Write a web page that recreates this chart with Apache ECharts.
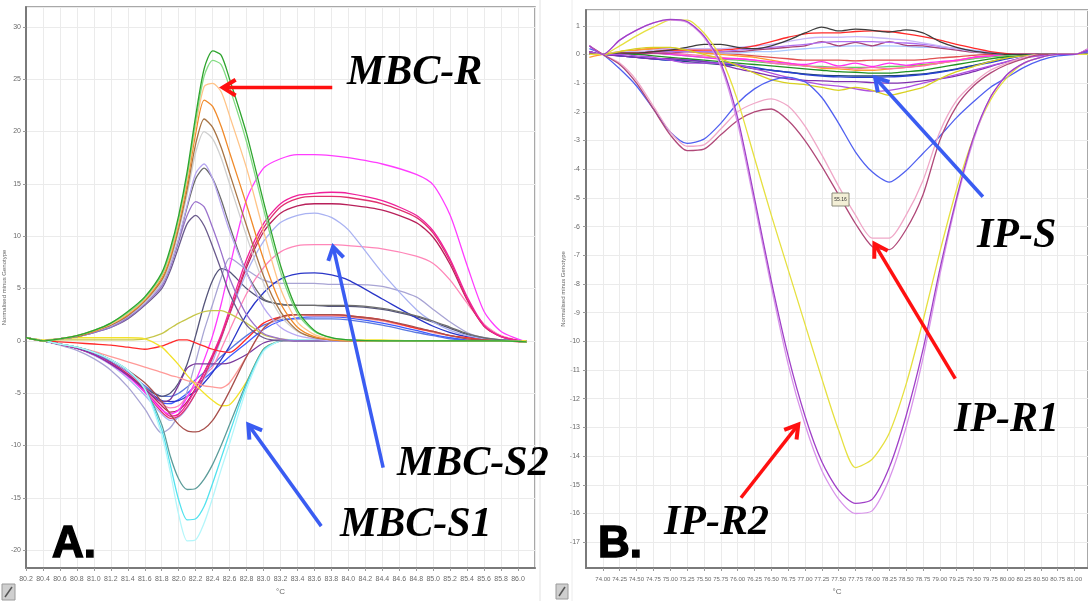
<!DOCTYPE html>
<html>
<head>
<meta charset="utf-8">
<script src="https://cdn.jsdelivr.net/npm/echarts@6/dist/echarts.min.js"></script>
<style>
  html, body { margin: 0; padding: 0; background: #ffffff; }
  #chart { width: 1088px; height: 601px; }
</style>
</head>
<body>
<div id="chart"></div>
<script>
// ---------- Panel A: MBC difference curves ----------
const tempA = [80.2, 80.4, 80.6, 80.8, 81.0, 81.2, 81.4, 81.6, 81.8, 81.9, 82.0, 82.1, 82.2, 82.3, 82.4, 82.5, 82.6, 82.8, 83.0, 83.2, 83.4, 83.6, 83.8, 84.0, 84.4, 84.8, 85.0, 85.2, 85.4, 85.6, 85.8, 86.1];

// MBC-R: sharp positive peaks near 82.3-82.4 °C
const rGreen    = [0.3, 0, 0.2, 0.5, 1.0, 1.7, 2.8, 4.2, 6.5, 8.8, 12.0, 16.2, 21.5, 26.0, 27.7, 27.3, 25.0, 19.8, 13.3, 7.2, 2.9, 1.0, 0.3, 0.1, 0, 0, 0, 0, 0, 0, 0, -0.1];
const rLime     = [0.3, 0, 0.2, 0.5, 1.0, 1.7, 2.7, 4.1, 6.3, 8.5, 11.7, 15.8, 21.0, 25.3, 26.8, 26.4, 24.2, 19.0, 12.6, 6.6, 2.6, 0.9, 0.3, 0.1, 0, 0, 0, 0, 0, 0, 0, -0.1];
const rPeach    = [0.3, 0, 0.2, 0.5, 1.0, 1.6, 2.6, 4.0, 6.2, 8.3, 11.5, 15.5, 20.5, 24.3, 24.6, 23.8, 21.5, 16.5, 10.5, 5.0, 1.8, 0.6, 0.2, 0.1, 0, 0, 0, 0, 0, 0, 0, -0.1];
const rOrange   = [0.3, 0, 0.2, 0.5, 0.9, 1.6, 2.5, 3.9, 6.0, 8.0, 11.2, 15.0, 19.8, 23.0, 22.4, 20.5, 18.0, 13.0, 7.8, 3.6, 1.3, 0.4, 0.1, 0, 0, 0, 0, 0, 0, 0, 0, -0.1];
const rUmber    = [0.3, 0, 0.2, 0.4, 0.9, 1.5, 2.4, 3.8, 5.8, 7.8, 10.8, 14.5, 18.8, 21.2, 20.4, 18.5, 16.0, 11.0, 6.2, 2.8, 1.0, 0.3, 0.1, 0, 0, 0, 0, 0, 0, 0, 0, -0.1];
const rSilver   = [0.3, 0, 0.2, 0.4, 0.9, 1.5, 2.4, 3.7, 5.6, 7.5, 10.5, 14.0, 18.0, 20.0, 19.3, 17.5, 15.0, 10.0, 5.5, 2.4, 0.9, 0.3, 0.1, 0, 0, 0, 0, 0, 0, 0, 0, -0.1];
const rLilac    = [0.3, 0, 0.2, 0.4, 0.9, 1.4, 2.3, 3.6, 5.4, 7.2, 9.8, 13.0, 16.0, 16.9, 15.5, 13.0, 10.5, 6.5, 3.2, 1.3, 0.5, 0.2, 0, 0, 0, 0, 0, 0, 0, 0, 0, -0.1];
const rGraphite = [0.3, 0, 0.2, 0.4, 0.9, 1.4, 2.3, 3.6, 5.4, 7.2, 9.7, 12.8, 15.5, 16.5, 15.5, 13.5, 11.0, 6.5, 4.0, 3.5, 3.4, 3.4, 3.4, 3.4, 3.1, 2.4, 1.9, 1.3, 0.7, 0.3, 0.1, -0.1];
const rPurple   = [0.3, 0, 0.2, 0.4, 0.8, 1.3, 2.2, 3.5, 5.2, 7.0, 9.5, 12.0, 13.3, 12.8, 10.8, 8.5, 6.0, 2.5, 0.7, 0.2, 0, 0, 0, 0, 0, 0, 0, 0, 0, 0, 0, -0.1];
const rPlum     = [0.3, 0, 0.2, 0.4, 0.8, 1.3, 2.1, 3.4, 5.0, 6.7, 9.0, 11.2, 12.0, 11.0, 9.0, 6.8, 4.5, 1.5, 0.3, 0, 0, 0, 0, 0, 0, 0, 0, 0, 0, 0, 0, -0.1];

// MBC-S1: deep negative dips near 82.1 °C
const s1Ice  = [0.3, 0, -0.3, -0.6, -1.1, -1.8, -2.8, -4.6, -9.0, -12.5, -16.6, -19.1, -19.0, -17.4, -15.0, -12.3, -9.8, -4.6, -1.0, 0, 0.1, 0.1, 0, 0, 0, 0, 0, 0, 0, 0, 0, -0.1];
const s1Cyan = [0.3, 0, -0.3, -0.6, -1.1, -1.8, -2.8, -4.6, -8.5, -11.8, -15.2, -17.1, -17.0, -15.8, -13.6, -11.2, -8.8, -4.2, -0.9, 0, 0.1, 0.1, 0, 0, 0, 0, 0, 0, 0, 0, 0, -0.1];
const s1Teal = [0.3, 0, -0.3, -0.6, -1.1, -1.8, -2.8, -4.6, -8.0, -11.0, -13.2, -14.2, -14.1, -13.2, -11.8, -10.0, -8.0, -4.0, -0.8, 0, 0.1, 0, 0, 0, 0, 0, 0, 0, 0, 0, 0, -0.1];

// other genotypes
const mBrown  = [0.3, 0, -0.3, -0.6, -1.1, -1.8, -2.8, -4.0, -5.8, -7.0, -8.0, -8.6, -8.7, -8.4, -7.6, -6.3, -4.8, -1.5, 1.2, 2.3, 2.5, 2.5, 2.5, 2.4, 2.0, 1.3, 0.9, 0.5, 0.2, 0.1, 0, -0.1];
const mYellow = [0.3, 0.1, 0.2, 0.3, 0.3, 0.3, 0.3, 0.2, -0.6, -1.4, -2.3, -3.3, -4.2, -5.0, -5.7, -6.2, -6.1, -3.9, -0.8, 0, 0.1, 0.1, 0.1, 0.1, 0.1, 0, 0, 0, 0, 0, 0, 0];
const mOlive  = [0.3, 0, 0.1, 0.1, 0.1, 0.1, 0.1, 0.2, 0.7, 1.2, 1.7, 2.1, 2.5, 2.8, 2.9, 2.9, 2.6, 1.7, 0.6, 0.2, 0.1, 0, 0, 0, 0, 0, 0, 0, 0, 0, 0, 0];
const mRed    = [0.3, 0, -0.1, -0.2, -0.3, -0.4, -0.6, -0.8, -0.5, -0.2, 0.1, 0.1, -0.2, -0.5, -0.8, -1.0, -1.1, 0.2, 1.7, 2.3, 2.5, 2.5, 2.5, 2.4, 2.0, 1.2, 0.9, 0.5, 0.3, 0.1, 0, -0.1];
const mSalmon = [0.3, 0, -0.3, -0.6, -1.0, -1.5, -2.0, -2.5, -3.0, -3.3, -3.5, -3.8, -4.0, -4.3, -4.4, -4.5, -4.0, -1.5, 1.2, 2.2, 2.5, 2.4, 2.4, 2.3, 1.9, 1.2, 0.8, 0.5, 0.2, 0.1, 0, -0.1];
const mViolet = [0.3, 0, -0.3, -0.7, -1.3, -2.2, -3.3, -4.6, -5.8, -5.6, -4.2, -2.6, -2.2, -2.2, -2.2, -2.2, -2.1, -1.3, -0.2, 0.1, 0, 0, 0, 0, 0, 0, 0, 0, 0, 0, 0, -0.1];

// MBC-S2: early dip then broad plateau from 83 to 85 °C
const s2Magenta    = [0.3, 0, -0.3, -0.7, -1.3, -2.2, -3.4, -4.9, -6.6, -7.0, -6.6, -5.4, -3.8, -1.8, 0.5, 3.5, 7.0, 13.5, 16.5, 17.4, 17.8, 17.8, 17.7, 17.5, 16.9, 15.9, 14.9, 12.0, 7.2, 2.8, 0.9, -0.1];
const s2Rose       = [0.3, 0, -0.3, -0.7, -1.3, -2.2, -3.3, -4.8, -6.5, -7.2, -7.0, -6.0, -4.6, -3.0, -1.3, 0.6, 3.0, 7.8, 11.2, 13.1, 13.9, 14.1, 14.2, 14.1, 13.4, 12.0, 10.5, 7.8, 4.2, 1.5, 0.4, -0.1];
const s2Crimson    = [0.3, 0, -0.3, -0.7, -1.3, -2.2, -3.3, -4.9, -6.8, -7.4, -7.2, -6.3, -5.0, -3.4, -1.6, 0.3, 2.6, 7.3, 10.8, 12.8, 13.6, 13.8, 13.8, 13.7, 13.1, 11.8, 10.3, 7.6, 4.0, 1.4, 0.4, -0.1];
const s2Wine       = [0.3, 0, -0.3, -0.7, -1.3, -2.1, -3.2, -4.6, -6.2, -6.8, -6.6, -5.8, -4.5, -3.0, -1.4, 0.4, 2.6, 7.0, 10.4, 12.2, 12.9, 13.1, 13.1, 13.0, 12.5, 11.3, 9.9, 7.3, 3.9, 1.4, 0.4, -0.1];
const s2Periwinkle = [0.3, 0, -0.3, -0.7, -1.4, -2.3, -3.6, -5.2, -7.0, -7.6, -7.3, -6.4, -5.0, -3.6, -2.0, 0.2, 2.5, 6.5, 9.5, 11.3, 12.0, 12.2, 11.8, 10.6, 6.5, 3.0, 1.8, 1.0, 0.5, 0.2, 0.1, 0];
const s2Pink       = [0.3, 0, -0.3, -0.7, -1.3, -2.1, -3.1, -4.5, -6.0, -6.4, -6.2, -5.3, -4.2, -3.3, -2.5, -0.8, 1.0, 4.5, 7.0, 8.5, 9.1, 9.2, 9.2, 9.1, 8.8, 8.1, 7.4, 5.8, 3.6, 1.6, 0.5, -0.1];
const s2Blue       = [0.3, 0, -0.3, -0.7, -1.3, -2.1, -3.2, -4.6, -5.7, -5.8, -5.7, -5.3, -4.8, -4.0, -3.0, -1.8, -0.5, 2.5, 4.6, 5.9, 6.4, 6.5, 6.3, 5.8, 4.0, 2.2, 1.4, 0.8, 0.4, 0.2, 0.1, 0];
const s2Haze       = [0.3, 0, -0.4, -0.9, -1.7, -2.8, -4.4, -6.5, -8.8, -8.3, -7.0, -4.8, -2.0, 1.0, 3.5, 6.0, 7.9, 6.8, 5.8, 5.5, 5.5, 5.5, 5.4, 5.4, 5.2, 4.2, 3.0, 1.8, 0.8, 0.3, 0.1, 0];
const s2Slate      = [0.3, 0, -0.3, -0.7, -1.3, -2.1, -3.2, -4.5, -5.3, -5.0, -4.0, -2.2, 0.5, 3.5, 5.8, 6.9, 6.6, 5.0, 3.9, 3.5, 3.4, 3.4, 3.3, 3.3, 3.0, 2.3, 1.8, 1.2, 0.6, 0.2, 0.1, 0];
const s2Azure      = [0.3, 0, -0.3, -0.7, -1.3, -2.1, -3.2, -4.6, -5.9, -6.0, -5.6, -5.0, -4.3, -3.6, -2.9, -2.2, -1.5, -0.2, 1.1, 1.9, 2.2, 2.3, 2.3, 2.2, 1.7, 1.0, 0.6, 0.3, 0.1, 0, 0, 0];
const s2Cobalt     = [0.3, 0, -0.3, -0.7, -1.2, -2.0, -3.0, -4.3, -5.3, -5.3, -5.0, -4.4, -3.7, -3.0, -2.3, -1.5, -0.8, 0.5, 1.5, 2.0, 2.1, 2.1, 2.1, 2.0, 1.5, 0.8, 0.5, 0.2, 0.1, 0, 0, 0];

// ---------- Panel B: IP difference curves ----------
const tempB = [73.8, 74.0, 74.25, 74.5, 74.75, 75.0, 75.25, 75.5, 75.75, 76.0, 76.25, 76.5, 76.75, 77.0, 77.25, 77.5, 77.75, 78.0, 78.25, 78.5, 78.75, 79.0, 79.25, 79.5, 79.75, 80.0, 80.25, 80.5, 80.75, 81.0, 81.2];

// IP-R2
const r2Violet = [0.3, 0, 0.5, 0.85, 1.1, 1.22, 1.15, 0.65, -0.3, -2.2, -5.0, -7.9, -10.5, -12.6, -14.2, -15.2, -15.65, -15.5, -14.4, -12.6, -10.3, -7.5, -5.0, -2.9, -1.5, -0.7, -0.3, -0.1, 0, 0, 0.15];
const r2Orchid = [0.3, 0, 0.5, 0.85, 1.1, 1.2, 1.12, 0.6, -0.4, -2.4, -5.2, -8.1, -10.8, -12.9, -14.5, -15.5, -16.0, -15.9, -14.8, -13.0, -10.6, -7.7, -5.1, -3.0, -1.5, -0.7, -0.3, -0.1, 0, 0, 0.2];
const r2Yellow = [0, 0, 0.3, 0.65, 0.95, 1.2, 1.2, 0.75, -0.1, -1.6, -3.6, -5.6, -7.5, -9.4, -11.3, -13.1, -14.4, -14.1, -13.2, -11.5, -9.3, -6.9, -4.7, -2.9, -1.6, -0.8, -0.3, -0.1, 0, 0, 0];
// IP-R1
const r1Mauve  = [0.3, 0, -0.35, -1.0, -1.9, -2.8, -3.35, -3.3, -2.8, -2.3, -2.0, -1.9, -2.3, -3.0, -3.9, -4.9, -5.9, -6.7, -6.8, -6.1, -4.9, -3.0, -1.8, -1.1, -0.65, -0.35, -0.15, 0, 0, 0, 0.2];
const r1Blush  = [0.3, 0, -0.3, -0.9, -1.8, -2.7, -3.2, -3.15, -2.6, -2.0, -1.7, -1.55, -1.8, -2.5, -3.5, -4.6, -5.6, -6.4, -6.4, -5.6, -4.4, -2.7, -1.6, -1.0, -0.55, -0.3, -0.1, 0, 0, 0, 0.2];
// IP-S
const sBlue      = [0.2, 0, -0.5, -1.1, -1.9, -2.7, -3.1, -2.95, -2.4, -1.7, -1.2, -0.9, -0.8, -0.95, -1.5, -2.4, -3.4, -4.1, -4.45, -4.05, -3.45, -2.85, -2.2, -1.65, -1.15, -0.8, -0.45, -0.2, -0.05, 0, 0.1];
const sGraphite  = [0.1, 0, 0.05, 0.05, 0.1, 0.15, 0.25, 0.35, 0.35, 0.25, 0.2, 0.3, 0.5, 0.75, 0.95, 0.82, 0.88, 0.84, 0.78, 0.86, 0.75, 0.45, 0.25, 0.12, 0.05, 0, 0, 0, 0, 0, 0];
const sScarlet   = [0.05, 0, 0.05, 0.05, 0.1, 0.15, 0.15, 0.15, 0.15, 0.2, 0.3, 0.45, 0.6, 0.72, 0.75, 0.75, 0.8, 0.82, 0.8, 0.72, 0.62, 0.5, 0.35, 0.22, 0.1, 0.03, 0, 0, 0, 0, 0];
const sLavender  = [0.05, 0, 0.1, 0.1, 0.15, 0.2, 0.2, 0.2, 0.2, 0.25, 0.3, 0.35, 0.45, 0.55, 0.6, 0.6, 0.62, 0.6, 0.55, 0.5, 0.4, 0.3, 0.2, 0.1, 0.05, 0, 0, 0, 0, 0, 0];
const sViolet    = [0, 0, 0.05, 0.05, 0.1, 0.1, 0.1, 0.1, 0.1, 0.15, 0.2, 0.25, 0.3, 0.35, 0.42, 0.45, 0.45, 0.45, 0.42, 0.4, 0.35, 0.28, 0.2, 0.12, 0.05, 0, 0, 0, 0, 0, 0];
const sMauve     = [0, 0, 0, 0, 0.05, 0.05, 0.1, 0.1, 0.1, 0.1, 0.15, 0.2, 0.25, 0.3, 0.45, 0.3, 0.42, 0.3, 0.45, 0.32, 0.3, 0.22, 0.15, 0.08, 0.03, 0, 0, 0, 0, 0, 0];
const sSky       = [0, 0, 0.05, 0.1, 0.1, 0.1, 0.1, 0.1, 0.05, 0.05, 0.1, 0.1, 0.15, 0.2, 0.25, 0.28, 0.3, 0.3, 0.3, 0.28, 0.25, 0.25, 0.22, 0.15, 0.08, 0.02, 0, 0, 0, 0, 0];
const sCoral     = [0.1, 0, 0.1, 0.15, 0.2, 0.2, 0.15, 0.1, 0.05, 0, -0.05, -0.1, -0.15, -0.2, -0.2, -0.2, -0.22, -0.2, -0.2, -0.2, -0.18, -0.12, -0.08, -0.03, 0, 0, 0, 0, 0, 0, 0];
const sFuchsia   = [0, 0, 0.05, 0.05, 0.05, 0, -0.05, -0.1, -0.15, -0.15, -0.2, -0.25, -0.3, -0.35, -0.25, -0.4, -0.3, -0.42, -0.3, -0.38, -0.3, -0.25, -0.2, -0.1, -0.05, 0, 0, 0, 0, 0, 0];
const sPink      = [0.1, 0, 0.05, 0.1, 0.1, 0.05, 0, -0.05, -0.1, -0.15, -0.2, -0.3, -0.35, -0.4, -0.45, -0.45, -0.5, -0.45, -0.5, -0.45, -0.4, -0.3, -0.22, -0.12, -0.05, 0, 0, 0, 0, 0, 0];
const sOrange    = [-0.1, 0, 0.1, 0.15, 0.2, 0.15, 0.1, 0.05, 0, -0.05, -0.1, -0.2, -0.3, -0.4, -0.48, -0.5, -0.55, -0.55, -0.5, -0.45, -0.38, -0.3, -0.2, -0.1, -0.05, 0, 0, 0, 0, 0, 0];
const sGreen     = [0, 0, 0, 0, -0.05, -0.1, -0.15, -0.2, -0.25, -0.3, -0.35, -0.4, -0.45, -0.5, -0.55, -0.6, -0.62, -0.65, -0.65, -0.6, -0.55, -0.45, -0.35, -0.25, -0.15, -0.08, -0.03, 0, 0, 0, 0];
const sNavy      = [0, 0, -0.05, -0.1, -0.15, -0.2, -0.25, -0.3, -0.35, -0.4, -0.5, -0.55, -0.62, -0.68, -0.72, -0.74, -0.75, -0.75, -0.74, -0.72, -0.68, -0.6, -0.5, -0.38, -0.25, -0.12, -0.05, 0, 0, 0, 0];
const sCobalt    = [0, 0, -0.05, -0.1, -0.15, -0.2, -0.2, -0.25, -0.3, -0.38, -0.45, -0.55, -0.62, -0.7, -0.75, -0.78, -0.8, -0.8, -0.78, -0.75, -0.7, -0.62, -0.52, -0.4, -0.28, -0.15, -0.05, 0, 0, 0, 0];
const sPurple    = [0.1, 0, -0.05, -0.1, -0.15, -0.15, -0.2, -0.25, -0.35, -0.5, -0.62, -0.75, -0.85, -0.9, -0.92, -0.95, -0.95, -0.98, -1.0, -0.98, -0.92, -0.85, -0.75, -0.6, -0.42, -0.25, -0.1, -0.03, 0, 0, 0.1];
const sGold      = [0, 0, 0.1, 0.2, 0.25, 0.25, 0.15, 0, -0.15, -0.4, -0.65, -0.88, -1.0, -1.05, -1.15, -1.25, -1.15, -1.25, -1.42, -1.3, -1.15, -0.85, -0.6, -0.42, -0.25, -0.12, -0.05, 0, 0, 0, 0];
const sAmethyst  = [0.1, 0, 0, -0.05, -0.1, -0.2, -0.3, -0.3, -0.3, -0.35, -0.5, -0.65, -0.8, -0.95, -1.05, -1.1, -1.2, -1.28, -1.25, -1.15, -1.0, -0.85, -0.7, -0.55, -0.4, -0.25, -0.12, -0.05, 0, 0, 0.1];
const sLime      = [0, 0, 0, 0.05, 0.05, 0, -0.05, -0.1, -0.15, -0.2, -0.25, -0.3, -0.35, -0.4, -0.42, -0.45, -0.45, -0.45, -0.42, -0.4, -0.35, -0.3, -0.22, -0.15, -0.08, -0.03, 0, 0, 0, 0, 0];

// axis titles
const yTitle = 'Normalised minus Genotype';
const xTitle = '°C';

// curve colours per panel
const curvesA = [
  [s2Cobalt, '#5a78e0'], [s2Azure, '#3f5cff'], [s2Slate, '#55557a'], [s2Haze, '#a8a4d4'],
  [s2Blue, '#2a36c8'], [s2Pink, '#ff86b8'], [s2Periwinkle, '#a9b2f2'], [s2Wine, '#b8205a'],
  [s2Crimson, '#e0306e'], [s2Rose, '#f0209a'], [s2Magenta, '#ff3cff'],
  [mViolet, '#7a3a9c'], [mSalmon, '#ff9a98'], [mRed, '#ff2a2a'], [mOlive, '#c6c64a'],
  [mYellow, '#f2e22a'], [mBrown, '#a8504c'],
  [s1Teal, '#5c9c9a'], [s1Cyan, '#52e2ee'], [s1Ice, '#b4f6fa'],
  [rPlum, '#6a5a8c'], [rPurple, '#9a72cc'], [rGraphite, '#6c6c6c'], [rLilac, '#b8a8f2'],
  [rSilver, '#cfcfcf'], [rUmber, '#a87444'], [rOrange, '#f08a2a'], [rPeach, '#ffc488'],
  [rLime, '#84dc84'], [rGreen, '#2ea42e']
];
const curvesB = [
  [sLime, '#5cd05c'], [sCoral, '#e05050'], [sSky, '#a8c8ff'], [sOrange, '#ff9a30'],
  [sPink, '#ff70b0'], [sFuchsia, '#ff30f0'], [sMauve, '#a84278'], [sViolet, '#b070f0'],
  [sLavender, '#c8b8f8'], [sScarlet, '#ff2a2a'], [sGraphite, '#3c3c3c'], [sGreen, '#229022'],
  [sNavy, '#204878'], [sCobalt, '#2840d0'], [sPurple, '#8030b0'], [sAmethyst, '#b050e0'],
  [sGold, '#d8d020'], [sBlue, '#5060f0'],
  [r1Blush, '#f0a8c8'], [r1Mauve, '#b04878'],
  [r2Yellow, '#e6e040'], [r2Orchid, '#d894ea'], [r2Violet, '#a040c8']
];

// annotation arrows, in data units of each panel
const arrowsA = [
  { from: [83.81, 24.2], to: [82.52, 24.2], color: '#ff1010' },
  { from: [84.41, -12.1], to: [83.82, 9.0], color: '#3a5cf2' },
  { from: [83.68, -17.7], to: [82.82, -8.0], color: '#3a5cf2' }
];
const arrowsB = [
  { from: [79.64, -4.96], to: [78.04, -0.81], color: '#3a5cf2' },
  { from: [79.23, -11.3], to: [78.03, -6.6], color: '#ff1010' },
  { from: [76.05, -15.45], to: [76.9, -12.9], color: '#ff1010' }
];

const chart = echarts.init(document.getElementById('chart'), null, { renderer: 'canvas' });

function toSeries(list, xs, gridIdx) {
  return list.map(([vals, color]) => ({
    type: 'line',
    xAxisIndex: gridIdx,
    yAxisIndex: gridIdx,
    data: xs.map((t, i) => [t, vals[i]]),
    showSymbol: false,
    smooth: 0.25,
    silent: true,
    lineStyle: { color: color, width: 1.3 },
    itemStyle: { color: color }
  }));
}

const axisLabelStyle = { fontSize: 7, color: '#6a6a6a', fontFamily: 'Liberation Sans' };
const splitStyle = { show: true, lineStyle: { color: '#ebebeb', width: 1 } };
const axisLineStyle = { show: true, onZero: false, lineStyle: { color: '#7a7a7a', width: 2 } };
const tickStyle = { show: true, length: 3, lineStyle: { color: '#9a9a9a' } };
const nameStyle = { fontSize: 8, color: '#666', fontFamily: 'Liberation Sans' };

chart.setOption({
  animation: false,
  backgroundColor: '#ffffff',
  grid: [
    { left: 22, top: 7, width: 513, height: 570, show: true, borderColor: '#8c8c8c', borderWidth: 1.5, backgroundColor: '#ffffff' },
    { left: 586, top: 10, width: 504, height: 564, show: true, borderColor: '#8c8c8c', borderWidth: 1.5, backgroundColor: '#ffffff' }
  ],
  xAxis: [
    {
      type: 'value', gridIndex: 0, min: 80.2, max: 86.2, interval: 0.2,
      name: xTitle, nameLocation: 'middle', nameGap: 20, nameTextStyle: nameStyle,
      axisLine: axisLineStyle, axisTick: tickStyle, splitLine: splitStyle,
      axisLabel: Object.assign({}, axisLabelStyle, { margin: 8, interval: 0, showMaxLabel: false, formatter: v => v.toFixed(1) })
    },
    {
      type: 'value', gridIndex: 1, min: 73.75, max: 81.2, interval: 0.25,
      name: xTitle, nameLocation: 'middle', nameGap: 20, nameTextStyle: nameStyle,
      axisLine: axisLineStyle, axisTick: tickStyle, splitLine: splitStyle,
      axisLabel: Object.assign({}, axisLabelStyle, { fontSize: 6, margin: 8, interval: 0, showMinLabel: false, showMaxLabel: false, formatter: v => v.toFixed(2) })
    }
  ],
  yAxis: [
    {
      type: 'value', gridIndex: 0, min: -21.7, max: 31.9, splitNumber: 10, minInterval: 5, maxInterval: 5,
      name: yTitle, nameLocation: 'middle', nameGap: 14,
      nameTextStyle: { fontSize: 6, color: '#666', fontFamily: 'Liberation Sans' },
      axisLine: axisLineStyle, axisTick: tickStyle, splitLine: splitStyle,
      axisLabel: Object.assign({}, axisLabelStyle, { margin: 5, showMinLabel: false, showMaxLabel: false })
    },
    {
      type: 'value', gridIndex: 1, min: -17.9, max: 1.55, splitNumber: 20, minInterval: 1, maxInterval: 1,
      name: yTitle, nameLocation: 'middle', nameGap: 15,
      nameTextStyle: { fontSize: 6, color: '#666', fontFamily: 'Liberation Sans' },
      axisLine: axisLineStyle, axisTick: tickStyle, splitLine: splitStyle,
      axisLabel: Object.assign({}, axisLabelStyle, { margin: 6, showMinLabel: false, showMaxLabel: false })
    }
  ],
  series: toSeries(curvesA, tempA, 0).concat(toSeries(curvesB, tempB, 1))
});

// arrows are placed through the axes so they sit on the curves they point at
function arrowShapes(gridIndex, list) {
  const out = [];
  list.forEach(a => {
    const p0 = chart.convertToPixel({ gridIndex: gridIndex }, a.from);
    const p1 = chart.convertToPixel({ gridIndex: gridIndex }, a.to);
    const ang = Math.atan2(p1[1] - p0[1], p1[0] - p0[0]);
    const L = 15, spread = 0.55;
    const h1 = [p1[0] - L * Math.cos(ang - spread), p1[1] - L * Math.sin(ang - spread)];
    const h2 = [p1[0] - L * Math.cos(ang + spread), p1[1] - L * Math.sin(ang + spread)];
    out.push({ type: 'polyline', z: 50, silent: true, shape: { points: [p0, p1] }, style: { stroke: a.color, lineWidth: 3.5, fill: null } });
    out.push({ type: 'polyline', z: 50, silent: true, shape: { points: [h1, p1, h2] }, style: { stroke: a.color, lineWidth: 4, fill: null, lineJoin: 'miter' } });
  });
  return out;
}

function label(text, x, y, font, heavy) {
  const style = { text: text, font: font, fill: '#000000', align: 'left', verticalAlign: 'middle', textAlign: 'left', textVerticalAlign: 'middle' };
  if (heavy) { style.stroke = '#000000'; style.lineWidth = 1.5; }
  return { type: 'text', x: x, y: y, z: 60, silent: true, style: style };
}

const serifFont = 'italic bold 42px "Liberation Serif"';
const panelFont = 'bold 44px "Liberation Sans"';

const graphics = []
  .concat([
    // screenshot frames
    { type: 'line', z: 1, silent: true, shape: { x1: 540, y1: 0, x2: 540, y2: 601 }, style: { stroke: '#e2e2e2', lineWidth: 1 } },
    { type: 'line', z: 1, silent: true, shape: { x1: 572, y1: 0, x2: 572, y2: 601 }, style: { stroke: '#ececec', lineWidth: 1 } },
    // corner icons
    { type: 'rect', z: 5, silent: true, shape: { x: 2, y: 584, width: 13, height: 16 }, style: { fill: '#cfcfcf', stroke: '#9a9a9a', lineWidth: 1 } },
    { type: 'line', z: 6, silent: true, shape: { x1: 5, y1: 597, x2: 12, y2: 587 }, style: { stroke: '#555', lineWidth: 1.5 } },
    { type: 'rect', z: 5, silent: true, shape: { x: 556, y: 584, width: 12, height: 15 }, style: { fill: '#cfcfcf', stroke: '#9a9a9a', lineWidth: 1 } },
    { type: 'line', z: 6, silent: true, shape: { x1: 559, y1: 596, x2: 565, y2: 587 }, style: { stroke: '#555', lineWidth: 1.5 } },
    // cursor readout box
    { type: 'rect', z: 40, silent: true, shape: { x: 832, y: 193, width: 17, height: 13 }, style: { fill: '#f3efd6', stroke: '#8a8a7a', lineWidth: 1 } },
    { type: 'text', z: 41, silent: true, x: 840.5, y: 199.5, style: { text: '55.16', font: '5px "Liberation Sans"', fill: '#333', align: 'center', verticalAlign: 'middle', textAlign: 'center', textVerticalAlign: 'middle' } }
  ])
  .concat(arrowShapes(0, arrowsA))
  .concat(arrowShapes(1, arrowsB))
  .concat([
    label('MBC-R', 347, 73, serifFont),
    label('MBC-S2', 397, 464, serifFont),
    label('MBC-S1', 340, 525, serifFont),
    label('IP-S', 977, 236, serifFont),
    label('IP-R1', 954, 420, serifFont),
    label('IP-R2', 664, 523, serifFont),
    label('A.', 52, 545, panelFont, true),
    label('B.', 598, 545, panelFont, true)
  ]);

chart.setOption({ graphic: graphics });
</script>
</body>
</html>
